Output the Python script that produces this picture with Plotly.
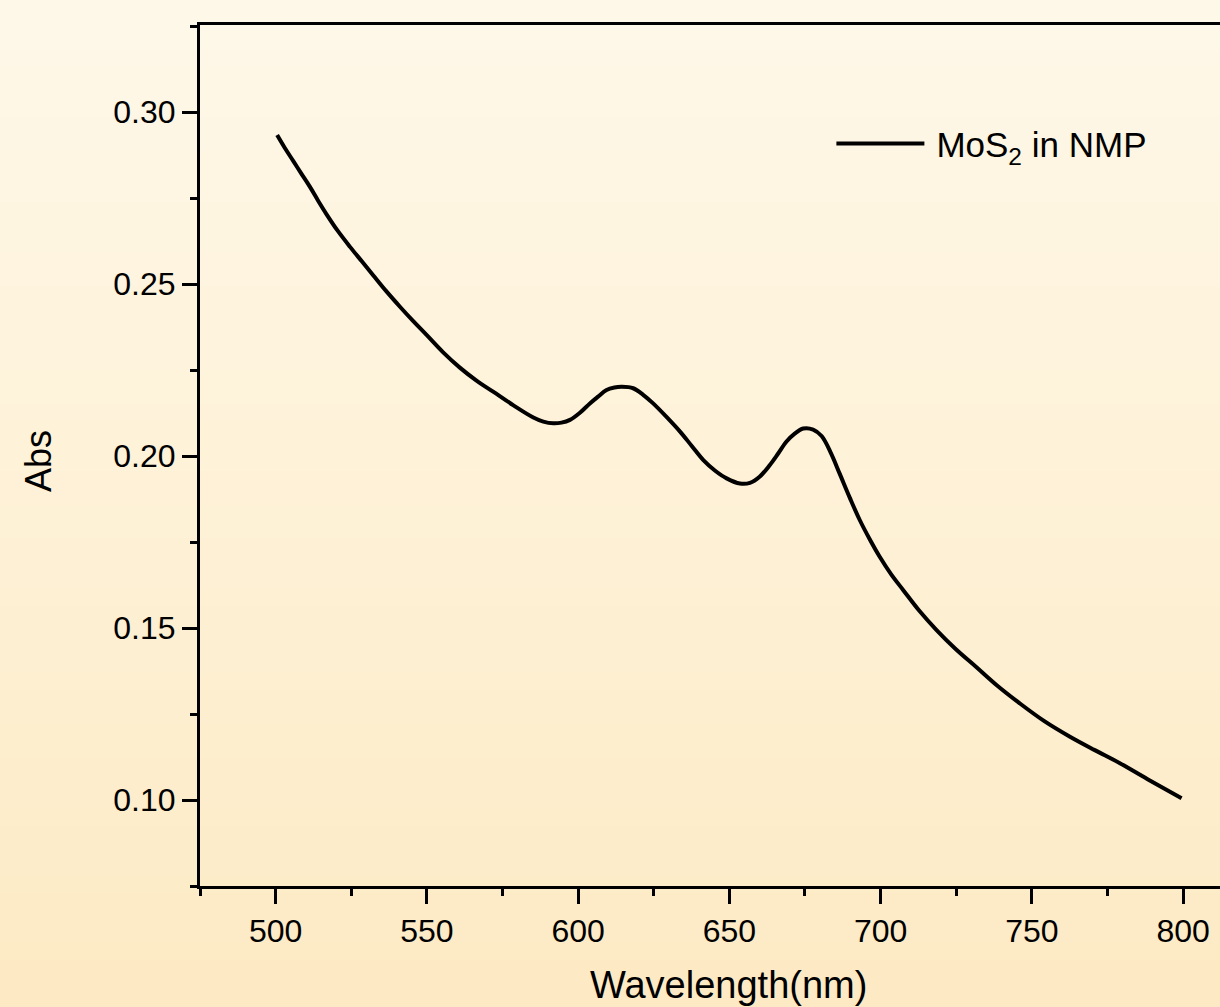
import plotly.graph_objects as go

# ---- data ----
wavelength = [500.5, 503.0, 505.8, 508.5, 511.3, 514.0, 516.9, 520.5, 524.6, 528.5,
              532.3, 536.5, 541.1, 545.5, 549.9, 555.3, 560.9, 566.3, 571.9, 578.5,
              585.2, 588.5, 591.8, 594.5, 597.3, 600.5, 603.9, 606.5, 609.4, 612.0,
              614.4, 618.2, 621.5, 624.8, 629.3, 633.7, 637.5, 641.4, 645.2, 649.1,
              653.5, 656.8, 660.0, 663.4, 666.2, 668.9, 671.6, 674.4, 677.7, 680.5,
              683.5, 686.5, 689.8, 693.1, 696.4, 699.7, 703.5, 707.5, 712.8, 718.5,
              724.8, 731.7, 738.5, 746.0, 754.0, 762.6, 770.8, 779.1, 789.0, 799.5]
absorbance = [0.2933, 0.2896, 0.2858, 0.2821, 0.2783, 0.2743, 0.2702, 0.2655, 0.2608, 0.2566,
              0.2525, 0.2480, 0.2434, 0.2392, 0.2352, 0.2302, 0.2257, 0.2220, 0.2187, 0.2148,
              0.2112, 0.2100, 0.2095, 0.2097, 0.2105, 0.2125, 0.2153, 0.2172, 0.2192, 0.2199,
              0.2201, 0.2197, 0.2178, 0.2153, 0.2113, 0.2071, 0.2030, 0.1988, 0.1958, 0.1935,
              0.1920, 0.1922, 0.1940, 0.1974, 0.2008, 0.2042, 0.2065, 0.2080, 0.2077, 0.2058,
              0.2010, 0.1948, 0.1879, 0.1814, 0.1758, 0.1707, 0.1656, 0.1610, 0.1550, 0.1494,
              0.1439, 0.1386, 0.1333, 0.1281, 0.1230, 0.1184, 0.1145, 0.1107, 0.1057, 0.1005]
series_name = "\u2009MoS<sub>2</sub> in NMP"
x_ticks = [500, 550, 600, 650, 700, 750, 800]
y_ticks = [0.10, 0.15, 0.20, 0.25, 0.30]
y_tick_labels = ["0.10", "0.15", "0.20", "0.25", "0.30"]

FONT = "Liberation Sans, Arial, sans-serif"

fig = go.Figure()
fig.add_trace(go.Scatter(
    x=wavelength, y=absorbance, mode="lines", name=series_name,
    line=dict(color="black", width=4, shape="spline", smoothing=1.0),
))

# background gradient (top cream -> bottom light orange)
top = (254, 248, 233)
bot = (253, 234, 196)
n = 60
y_top, y_bot = 1.03, -0.145
shapes = []
for i in range(n):
    t = i / (n - 1)
    c = tuple(round(top[k] + (bot[k] - top[k]) * t) for k in range(3))
    ya = y_top + (y_bot - y_top) * i / n
    yb = y_top + (y_bot - y_top) * (i + 1) / n
    shapes.append(dict(type="rect", xref="paper", yref="paper", x0=-0.2, x1=1.01,
                       y0=yb - 0.002, y1=ya, line=dict(width=0),
                       fillcolor="rgb(%d,%d,%d)" % c, layer="below"))

fig.update_layout(
    width=1220, height=1007,
    margin=dict(l=200, r=0, t=25, b=121),
    paper_bgcolor="rgb(253,241,215)",
    plot_bgcolor="rgba(0,0,0,0)",
    shapes=shapes,
    font=dict(family=FONT, color="black", size=32),
    showlegend=True,
    legend=dict(x=0.619, y=0.862, xanchor="left", yanchor="middle",
                bgcolor="rgba(0,0,0,0)", font=dict(size=35, family=FONT),
                itemwidth=88),
    annotations=[
        dict(text="Wavelength(nm)", xref="paper", yref="paper", x=0.5186, y=-0.115,
             showarrow=False, font=dict(size=38, family=FONT), xanchor="center", yanchor="middle"),
        dict(text="Abs", xref="paper", yref="paper", x=-0.1588, y=0.4936, textangle=-90,
             showarrow=False, font=dict(size=36, family=FONT), xanchor="center", yanchor="middle"),
    ],
)

fig.update_xaxes(
    range=[475, 812.2], tickvals=x_ticks, ticks="outside", ticklen=15, tickwidth=3,
    tickcolor="black", showline=True, linewidth=3, linecolor="black", mirror=True,
    showgrid=False, zeroline=False, tickfont=dict(size=32, family=FONT),
    minor=dict(dtick=25, tick0=475, ticks="outside", ticklen=7, tickwidth=3, tickcolor="black"),
)
fig.update_yaxes(
    range=[0.0750, 0.3253], tickvals=y_ticks, ticktext=y_tick_labels, ticks="outside",
    ticklen=15, tickwidth=3, tickcolor="black", showline=True, linewidth=3,
    linecolor="black", mirror=False, showgrid=False, zeroline=False,
    tickfont=dict(size=32, family=FONT),
    minor=dict(dtick=0.025, tick0=0.075, ticks="outside", ticklen=7, tickwidth=3, tickcolor="black"),
)

fig.write_html("out.html", config={"displayModeBar": False},
               post_script="document.body.style.margin='0';document.body.style.overflow='hidden';")
